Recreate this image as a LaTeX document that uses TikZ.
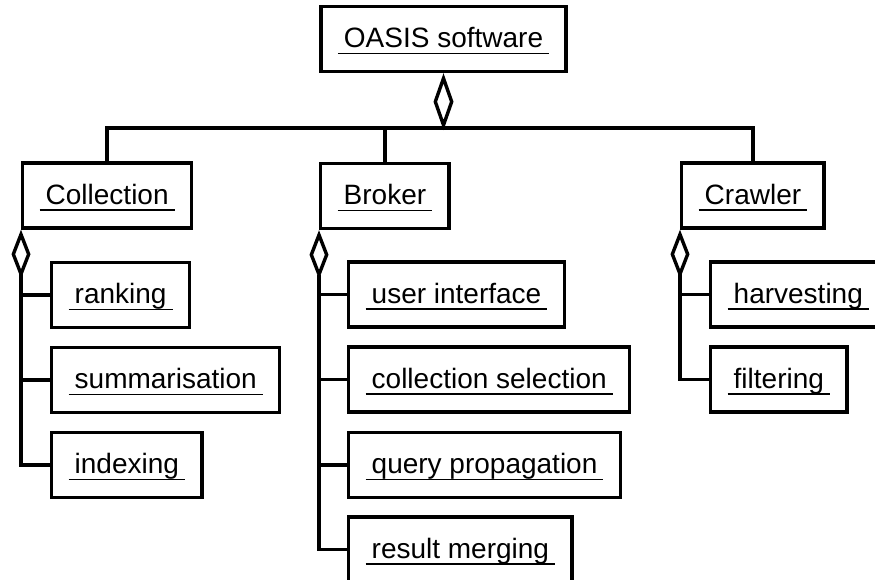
\documentclass[tikz,border=0pt]{standalone}
\usepackage{fontspec}
\setmainfont{Liberation Sans}
\usetikzlibrary{arrows.meta}

\newsavebox{\ulsave}
\newcommand{\ulabel}[1]{\sbox{\ulsave}{\hspace{6pt}#1\hspace{6pt}}\rlap{\rule[-6.5pt]{\wd\ulsave}{1.5pt}}\usebox{\ulsave}}

\tikzset{
  part/.style={draw, line width=3.4pt, rectangle, minimum height=65pt, inner xsep=17pt, inner ysep=0pt,
    text height=24pt, text depth=7pt, font=\fontsize{28}{32}\selectfont},
  link/.style={line width=3.4pt},
  agg/.style 2 args={link, {Diamond[open, length=#1, width=#2]}-}
}

\begin{document}
\begin{tikzpicture}[x=1pt, y=-1pt]
  \useasboundingbox (0,0) rectangle (875,579);
  \clip (0,0) rectangle (875,579);

  % whole system
  \node[part] (oasis) at (443.5,39) {\ulabel{OASIS software}};

  % subsystems
  \node[part, anchor=west] (collection) at (21,195.5) {\ulabel{Collection}};
  \node[part, anchor=west] (broker) at (319,196) {\ulabel{Broker}};
  \node[part, anchor=west] (crawler) at (680,195.5) {\ulabel{Crawler}};

  % collection parts
  \node[part, anchor=west] (ranking) at (50,295) {\ulabel{ranking}};
  \node[part, anchor=west] (summ) at (50,380) {\ulabel{summarisation}};
  \node[part, anchor=west] (indexing) at (50,465) {\ulabel{indexing}};

  % broker parts
  \node[part, anchor=west] (userif) at (347,294.5) {\ulabel{user interface}};
  \node[part, anchor=west] (collsel) at (347,379.5) {\ulabel{collection selection}};
  \node[part, anchor=west] (queryprop) at (347,465) {\ulabel{query propagation}};
  \node[part, anchor=west] (resmerge) at (347,549.5) {\ulabel{result merging}};

  % crawler parts
  \node[part, anchor=west] (harvest) at (709,294.5) {\ulabel{harvesting}};
  \node[part, anchor=west] (filter) at (709,379.5) {\ulabel{filtering}};

  % top level aggregation
  \coordinate (bar) at (443.5,128);
  \draw[agg={57pt}{20pt}] (oasis.south) -- (bar);
  \draw[link] (collection.north) |- (bar) -| (crawler.north);
  \draw[link] (broker.north) -- (broker.north |- bar);

  % collection
  \draw[agg={49pt}{19pt}] (collection.south west) |- (indexing.west);
  \draw[link] (collection.south west |- ranking.west) -- (ranking.west);
  \draw[link] (collection.south west |- summ.west) -- (summ.west);

  % broker
  \draw[agg={49pt}{19pt}] (broker.south west) |- (resmerge.west);
  \draw[link] (broker.south west |- userif.west) -- (userif.west);
  \draw[link] (broker.south west |- collsel.west) -- (collsel.west);
  \draw[link] (broker.south west |- queryprop.west) -- (queryprop.west);

  % crawler
  \draw[agg={49pt}{19pt}] (crawler.south west) |- (filter.west);
  \draw[link] (crawler.south west |- harvest.west) -- (harvest.west);
\end{tikzpicture}
\end{document}
